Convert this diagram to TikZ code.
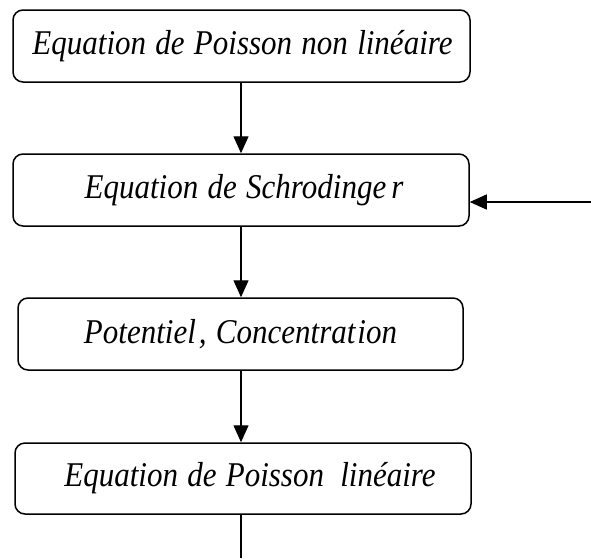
\documentclass[tikz,border=0pt]{standalone}
\usepackage{graphicx}
\usepackage{fontspec}
\setmainfont{Liberation Serif}
\usetikzlibrary{arrows.meta}
\newcommand{\stagefont}{\fontsize{31}{36}\selectfont\itshape\spaceskip=0.3em\relax}
\newcommand{\stagetext}[1]{\scalebox{1}[1.12]{#1}}
\begin{document}
\begin{tikzpicture}[x=1pt,y=1pt,
  stepbox/.style={draw, line width=1.5pt, rounded corners=10pt, inner sep=0pt,
    font={\stagefont}},
  flow/.style={line width=1.3pt, -{Triangle[length=17pt,width=15pt]}},
  plain/.style={line width=1.3pt}]
  \useasboundingbox (0,0) rectangle (591,-558);

  % the four stages of the computation loop
  \node[stepbox, minimum width=457pt, minimum height=72pt] (poissonNL) at (241.5,-46)
    {\stagetext{\hspace*{2pt}Equation de Poisson non linéaire}};
  \node[stepbox, minimum width=456pt, minimum height=72pt] (schrod) at (241,-190)
    {\stagetext{\hspace*{6pt}Equation de Schrodinge\hspace{5pt}r}};
  \node[stepbox, minimum width=445pt, minimum height=72pt] (potconc) at (240.5,-334)
    {\stagetext{Potentiel\hspace{3pt}, Concentrat\hspace{2pt}ion}};
  \node[stepbox, minimum width=456pt, minimum height=71pt] (poissonL) at (243,-478.5)
    {\stagetext{\hspace*{14pt}Equation de Poisson\hspace{7pt} linéaire}};

  % free ends of the loop connectors
  \coordinate (loopin) at (591,-202);
  \coordinate (loopout) at (241,-558);

  \draw[flow] (poissonNL.south -| loopout) -- (schrod.north -| loopout);
  \draw[flow] (schrod.south -| loopout) -- (potconc.north -| loopout);
  \draw[flow] (potconc.south -| loopout) -- (poissonL.north -| loopout);
  \draw[plain] (poissonL.south -| loopout) -- (loopout);
  \draw[flow] (loopin) -- (loopin -| schrod.east);
\end{tikzpicture}
\end{document}
